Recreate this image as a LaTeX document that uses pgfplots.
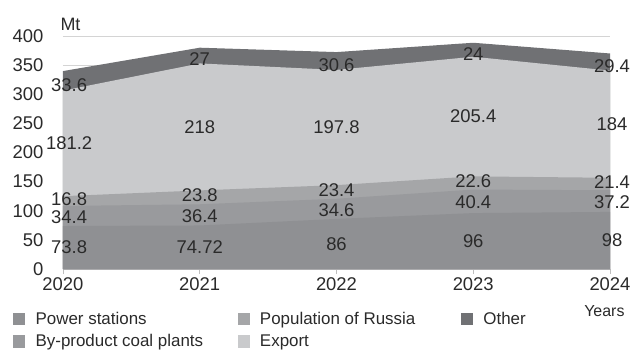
\documentclass[border=0pt]{standalone}
\usepackage{pgfplots}
\usepackage{pgfplotstable}
\pgfplotsset{compat=1.18}
\usepackage{fontspec}
\setmainfont{Liberation Sans}
\definecolor{cPS}{HTML}{8F9093}
\definecolor{cBP}{HTML}{999A9D}
\definecolor{cPOP}{HTML}{A5A6A8}
\definecolor{cEXP}{HTML}{C9CACC}
\definecolor{cOTH}{HTML}{707174}
\definecolor{txt}{HTML}{2A2A2A}
\pgfplotstableread{
year ps bp pop exp oth
2020 73.8 34.4 16.8 181.2 33.6
2021 74.72 36.4 23.8 218 27
2022 86 34.6 23.4 197.8 30.6
2023 96 40.4 22.6 205.4 24
2024 98 37.2 21.4 184 29.4
}\data
\newcommand{\tf}{\fontsize{18.5}{20}\selectfont}
\newcommand{\lf}{\fontsize{17}{19}\selectfont}
\newcommand{\lx}{\thisrow{year}+(\thisrow{year}==2020)*0.045+(\thisrow{year}==2024)*0.015}
\begin{document}
\begin{tikzpicture}
\useasboundingbox (-63bp,-81bp) rectangle (569bp,269bp);
\begin{axis}[
  scale only axis, width=547bp, height=233bp,
  xmin=2020, xmax=2024, ymin=0, ymax=400,
  clip=false,
  axis x line*=bottom, axis y line*=left,
  y axis line style={draw=none},
  x axis line style={draw=black!25, line width=1.2pt},
  xtick={2020,2021,2022,2023,2024},
  ytick={0,50,...,400},
  xtick align=outside,
  major tick length=5bp,
  xtick style={draw=black!25, line width=0.8pt},
  ytick style={draw=none},
  ymajorgrids, grid style={draw=black!17, line width=0.8pt},
  /pgf/number format/assume math mode=true,
  /pgf/number format/1000 sep={},
  xticklabel style={font=\tf, text=txt},
  yticklabel style={font=\tf, text=txt, xshift=-16bp},
  every node near coord/.style={font=\tf, text=txt, anchor=center, inner sep=0pt},
  legend columns=3,
  legend style={draw=none, fill=none, inner sep=0pt, at={(0,0)}, anchor=north west,
    xshift=-50bp, yshift=-43bp, row sep=6.7bp,
    nodes={inner sep=0pt, anchor=base west, font=\lf, text=txt, text height=12bp, text depth=4bp},
    /tikz/every odd column/.append style={column sep=11bp}},
  legend image code/.code={\fill[#1] (0bp,0bp) rectangle (11bp,11.5bp);},
]
% stacked areas (painted from the top layer down)
\addplot[fill=cOTH, draw=none, forget plot] table[x=year, y expr=\thisrow{ps}+\thisrow{bp}+\thisrow{pop}+\thisrow{exp}+\thisrow{oth}] {\data} \closedcycle;
\addplot[fill=cEXP, draw=none, forget plot] table[x=year, y expr=\thisrow{ps}+\thisrow{bp}+\thisrow{pop}+\thisrow{exp}] {\data} \closedcycle;
\addplot[fill=cPOP, draw=none, forget plot] table[x=year, y expr=\thisrow{ps}+\thisrow{bp}+\thisrow{pop}] {\data} \closedcycle;
\addplot[fill=cBP, draw=none, forget plot] table[x=year, y expr=\thisrow{ps}+\thisrow{bp}] {\data} \closedcycle;
\addplot[fill=cPS, draw=none, forget plot] table[x=year, y=ps] {\data} \closedcycle;
% value labels, centred in each band (edge labels nudged inward like the reference)
\addplot[draw=none, forget plot, nodes near coords, point meta=explicit symbolic] table[x expr=\lx, y expr=\thisrow{ps}/2, meta=ps] {\data};
\addplot[draw=none, forget plot, nodes near coords, point meta=explicit symbolic, every node near coord/.append style={yshift=-1bp}] table[x expr=\lx, y expr=\thisrow{ps}+\thisrow{bp}/2, meta=bp] {\data};
\addplot[draw=none, forget plot, nodes near coords, point meta=explicit symbolic, every node near coord/.append style={yshift=2bp}] table[x expr=\lx, y expr=\thisrow{ps}+\thisrow{bp}+\thisrow{pop}/2, meta=pop] {\data};
\addplot[draw=none, forget plot, nodes near coords, point meta=explicit symbolic] table[x expr=\lx, y expr=\thisrow{ps}+\thisrow{bp}+\thisrow{pop}+\thisrow{exp}/2, meta=exp] {\data};
\addplot[draw=none, forget plot, nodes near coords, point meta=explicit symbolic, every node near coord/.append style={yshift=-4bp}] table[x expr=\lx, y expr=\thisrow{ps}+\thisrow{bp}+\thisrow{pop}+\thisrow{exp}+\thisrow{oth}/2, meta=oth] {\data};
% legend
\addlegendimage{cPS}\addlegendentry{\makebox[202bp][l]{Power stations}}
\addlegendimage{cPOP}\addlegendentry{\makebox[201bp][l]{Population of Russia}}
\addlegendimage{cOTH}\addlegendentry{Other}
\addlegendimage{cBP}\addlegendentry{\makebox[202bp][l]{By-product coal plants}}
\addlegendimage{cEXP}\addlegendentry{\makebox[201bp][l]{Export}}
\node[anchor=base west, font=\fontsize{18}{20}\selectfont, text=txt] at (rel axis cs:0,1) [xshift=-6bp, yshift=6bp] {Mt};
\node[anchor=base east, font=\fontsize{16}{18}\selectfont, text=txt] at (rel axis cs:1,0) [xshift=18bp, yshift=-47.7bp] {Years};
\end{axis}
\end{tikzpicture}
\end{document}
